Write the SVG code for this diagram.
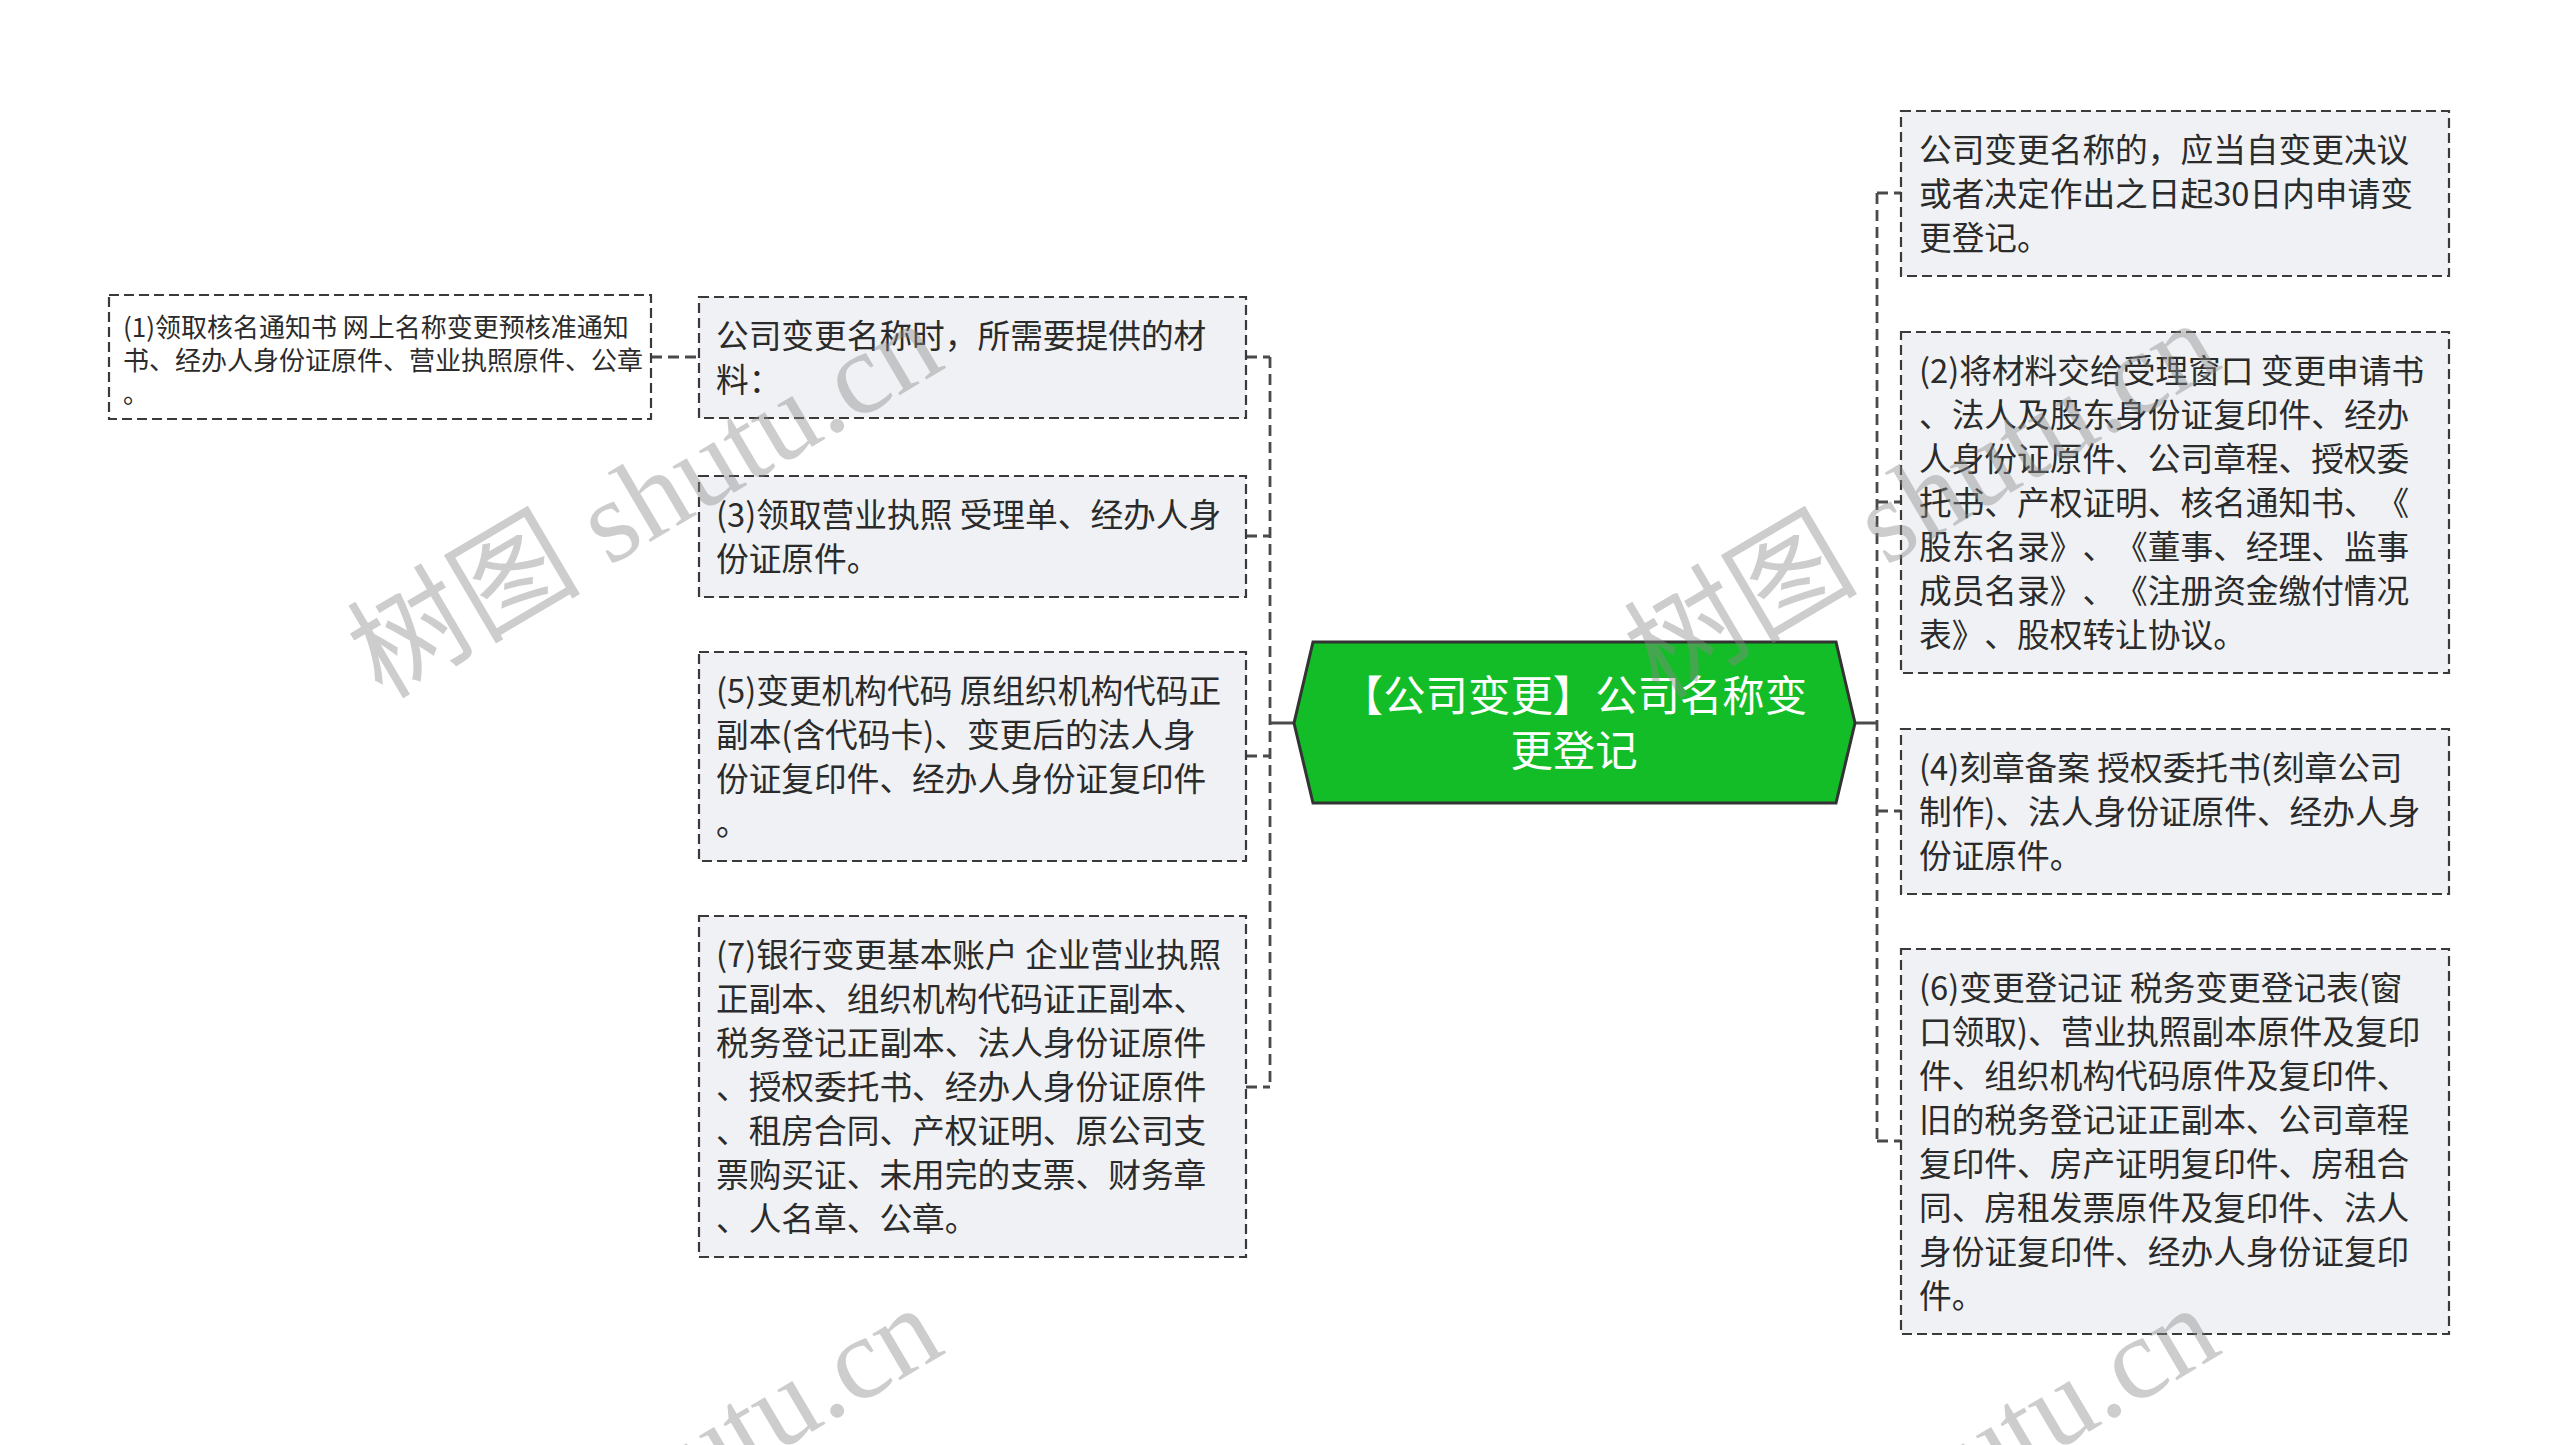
<svg xmlns="http://www.w3.org/2000/svg" width="2560" height="1445" viewBox="0 0 2560 1445">
<style>
.box{fill:#eff1f4;stroke:#3a3a3a;stroke-width:2.2;stroke-dasharray:10 5}
.box1{fill:#ffffff;stroke:#3a3a3a;stroke-width:2.2;stroke-dasharray:10 5}
.t{font-family:"Noto Sans CJK SC","Noto Sans",sans-serif;font-size:32.7px;fill:#2b2b2b;text-spacing-trim:space-all}
.ts{font-family:"Noto Sans CJK SC","Noto Sans",sans-serif;font-size:26px;fill:#2b2b2b;text-spacing-trim:space-all}
.tr{font-family:"Noto Sans CJK SC","Noto Sans",sans-serif;font-size:42.4px;fill:#ffffff;text-anchor:middle;text-spacing-trim:space-all}
.c{fill:none;stroke:#4a4a4a;stroke-width:2.8;stroke-dasharray:11 6}
.cs{fill:none;stroke:#4a4a4a;stroke-width:3}
.wm{font-family:"Liberation Serif","Noto Sans CJK SC",serif;font-size:117px;fill:#888;fill-opacity:0.42}
</style>
<rect width="2560" height="1445" fill="#ffffff"/>
<g id="connectors">
<path class="c" d="M1270,357 V1087"/>
<path class="c" d="M1246,357 H1270 M1246,536 H1270 M1246,756 H1270 M1246,1087 H1270"/>
<path class="cs" d="M1270,723 H1294"/>
<path class="c" d="M1877,193 V1141"/>
<path class="c" d="M1877,193 H1901 M1877,502 H1901 M1877,811 H1901 M1877,1141 H1901"/>
<path class="cs" d="M1855,723 H1877"/>
<path class="c" d="M651,357 H699"/>
</g>
<g id="root">
<polygon points="1294,723 1313,642 1836,642 1855,723 1836,803 1313,803" fill="#13bd27" stroke="#333333" stroke-width="3"/>
<text class="tr" x="1574" y="711">【公司变更】公司名称变</text>
<text class="tr" x="1574" y="766">更登记</text>
</g>
<g id="n1">
<rect class="box1" x="109" y="295" width="542" height="124"/>
<text class="ts" x="123" y="337">(1)领取核名通知书 网上名称变更预核准通知</text>
<text class="ts" x="123" y="370">书、经办人身份证原件、营业执照原件、公章</text>
<text class="ts" x="123" y="403">。</text>
</g>
<g id="nA">
<rect class="box" x="699" y="297" width="547" height="121"/>
<text class="t" x="716" y="348">公司变更名称时，所需要提供的材</text>
<text class="t" x="716" y="392">料：</text>
</g>
<g id="nB">
<rect class="box" x="699" y="476" width="547" height="121"/>
<text class="t" x="716" y="527">(3)领取营业执照 受理单、经办人身</text>
<text class="t" x="716" y="571">份证原件。</text>
</g>
<g id="nC">
<rect class="box" x="699" y="652" width="547" height="209"/>
<text class="t" x="716" y="703">(5)变更机构代码 原组织机构代码正</text>
<text class="t" x="716" y="747">副本(含代码卡)、变更后的法人身</text>
<text class="t" x="716" y="791">份证复印件、经办人身份证复印件</text>
<text class="t" x="716" y="835">。</text>
</g>
<g id="nD">
<rect class="box" x="699" y="916" width="547" height="341"/>
<text class="t" x="716" y="967">(7)银行变更基本账户 企业营业执照</text>
<text class="t" x="716" y="1011">正副本、组织机构代码证正副本、</text>
<text class="t" x="716" y="1055">税务登记正副本、法人身份证原件</text>
<text class="t" x="716" y="1099">、授权委托书、经办人身份证原件</text>
<text class="t" x="716" y="1143">、租房合同、产权证明、原公司支</text>
<text class="t" x="716" y="1187">票购买证、未用完的支票、财务章</text>
<text class="t" x="716" y="1231">、人名章、公章。</text>
</g>
<g id="nE">
<rect class="box" x="1901" y="111" width="548" height="165"/>
<text class="t" x="1919" y="162">公司变更名称的，应当自变更决议</text>
<text class="t" x="1919" y="206">或者决定作出之日起30日内申请变</text>
<text class="t" x="1919" y="250">更登记。</text>
</g>
<g id="nF">
<rect class="box" x="1901" y="332" width="548" height="341"/>
<text class="t" x="1919" y="383">(2)将材料交给受理窗口 变更申请书</text>
<text class="t" x="1919" y="427">、法人及股东身份证复印件、经办</text>
<text class="t" x="1919" y="471">人身份证原件、公司章程、授权委</text>
<text class="t" x="1919" y="515">托书、产权证明、核名通知书、《</text>
<text class="t" x="1919" y="559">股东名录》、《董事、经理、监事</text>
<text class="t" x="1919" y="603">成员名录》、《注册资金缴付情况</text>
<text class="t" x="1919" y="647">表》、股权转让协议。</text>
</g>
<g id="nG">
<rect class="box" x="1901" y="729" width="548" height="165"/>
<text class="t" x="1919" y="780">(4)刻章备案 授权委托书(刻章公司</text>
<text class="t" x="1919" y="824">制作)、法人身份证原件、经办人身</text>
<text class="t" x="1919" y="868">份证原件。</text>
</g>
<g id="nH">
<rect class="box" x="1901" y="949" width="548" height="385"/>
<text class="t" x="1919" y="1000">(6)变更登记证 税务变更登记表(窗</text>
<text class="t" x="1919" y="1044">口领取)、营业执照副本原件及复印</text>
<text class="t" x="1919" y="1088">件、组织机构代码原件及复印件、</text>
<text class="t" x="1919" y="1132">旧的税务登记证正副本、公司章程</text>
<text class="t" x="1919" y="1176">复印件、房产证明复印件、房租合</text>
<text class="t" x="1919" y="1220">同、房租发票原件及复印件、法人</text>
<text class="t" x="1919" y="1264">身份证复印件、经办人身份证复印</text>
<text class="t" x="1919" y="1308">件。</text>
</g>
<g id="watermark">
<text class="wm" x="382" y="700" transform="rotate(-30.5 382 700)">树图 shutu.cn</text>
<text class="wm" x="1659" y="700" transform="rotate(-30.5 1659 700)">树图 shutu.cn</text>
<text class="wm" x="382" y="1685" transform="rotate(-30.5 382 1685)">树图 shutu.cn</text>
<text class="wm" x="1659" y="1685" transform="rotate(-30.5 1659 1685)">树图 shutu.cn</text>
</g>
</svg>
